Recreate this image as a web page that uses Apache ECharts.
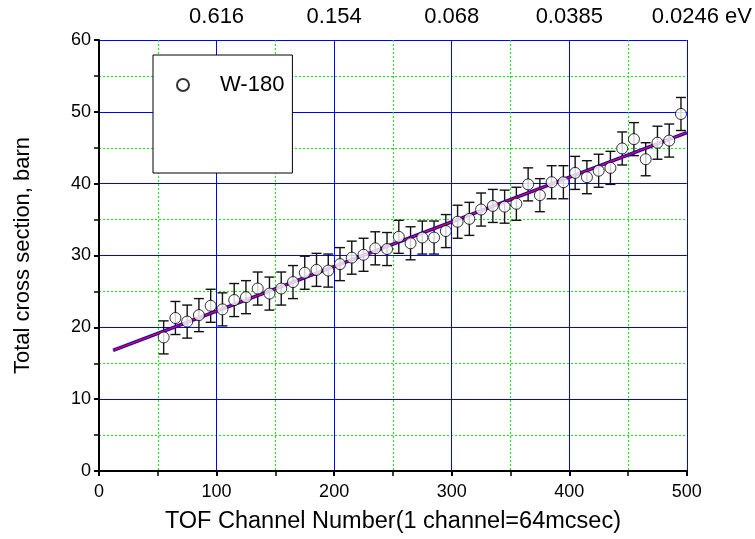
<!DOCTYPE html>
<html>
<head>
<meta charset="utf-8">
<script src="https://cdn.jsdelivr.net/npm/echarts@6/dist/echarts.min.js"></script>
<style>html,body{margin:0;padding:0;background:#fff;}#c{width:755px;height:539px;}</style>
</head>
<body>
<div id="c"></div>
<script>
const channels = [55,65,75,85,95,105,115,125,135,145,155,165,175,185,195,205,215,225,235,245,255,265,275,285,295,305,315,325,335,345,355,365,375,385,395,405,415,425,435,445,455,465,475,485,495];
const crossSection = [18.6,21.3,20.8,21.7,23.0,22.5,23.8,24.2,25.4,24.7,25.4,26.3,27.6,28.0,27.9,28.8,29.7,30.1,31.0,30.9,32.6,31.7,32.5,32.5,33.4,34.7,35.1,36.4,36.9,36.8,37.2,39.9,38.4,40.2,40.2,41.5,40.9,41.8,42.2,44.9,46.2,43.4,45.7,46.0,49.7];
const errors = [2.3,2.3,2.3,2.3,2.3,2.3,2.3,2.3,2.3,2.3,2.3,2.3,2.3,2.3,2.3,2.3,2.3,2.3,2.3,2.3,2.3,2.3,2.3,2.3,2.3,2.3,2.3,2.3,2.3,2.3,2.3,2.3,2.3,2.3,2.3,2.3,2.3,2.3,2.3,2.3,2.3,2.3,2.3,2.3,2.3];
const fitX = [12, 500];
const fitY = [16.8, 47.1];
const topTickValues = [100, 200, 300, 400, 500];
const topTickLabels = ['0.616', '0.154', '0.068', '0.0385', '0.0246'];
const seriesName = 'W-180';

const FONT = 'Liberation Sans, Arial, sans-serif';
const chart = echarts.init(document.getElementById('c'));

const pts = channels.map((x, i) => [x, crossSection[i]]);
const errData = channels.map((x, i) => [x, crossSection[i] - errors[i], crossSection[i] + errors[i]]);
const fitData = fitX.map((x, i) => [x, fitY[i]]);

chart.setOption({
  animation: false,
  backgroundColor: '#fff',
  grid: { left: 99, right: 68, top: 40, bottom: 67 },
  legend: {
    data: [seriesName],
    left: 153, top: 55,
    orient: 'vertical',
    backgroundColor: '#fff',
    borderColor: '#000', borderWidth: 1,
    padding: [19, 8, 77, 23],
    itemWidth: 12, itemHeight: 12,
    textStyle: { fontFamily: FONT, fontSize: 22, color: '#000', padding: [0, 0, 0, 26] }
  },
  xAxis: [{
    type: 'value', min: 0, max: 500, interval: 100,
    name: 'TOF Channel Number(1 channel=64mcsec)',
    nameLocation: 'middle', nameGap: 39,
    nameTextStyle: { fontFamily: FONT, fontSize: 23.5, color: '#000' },
    axisLine: { lineStyle: { color: '#000', width: 2 } },
    axisTick: { length: 5, lineStyle: { color: '#000', width: 2 } },
    minorTick: { show: true, splitNumber: 2, length: 5, lineStyle: { color: '#000', width: 1.5 } },
    axisLabel: { fontFamily: FONT, fontSize: 18, color: '#000', margin: 12 },
    splitLine: { show: true, lineStyle: { color: '#0000ff', width: 1 } },
    minorSplitLine: { show: true, lineStyle: { color: '#00ee00', width: 1, type: [2, 2] } }
  }, {
    type: 'value', min: 0, max: 500, interval: 100, position: 'top',
    axisLine: { show: false }, axisTick: { show: false }, splitLine: { show: false },
    axisLabel: {
      fontFamily: FONT, fontSize: 22, color: '#000', margin: 12,
      formatter: function (v) {
        const i = topTickValues.indexOf(v);
        if (i < 0) return '';
        if (i === topTickLabels.length - 1) return '{p|}' + topTickLabels[i] + ' eV';
        return topTickLabels[i];
      },
      rich: { p: { width: 30 } }
    }
  }],
  yAxis: {
    type: 'value', min: 0, max: 60, interval: 10,
    name: 'Total cross section, barn',
    nameLocation: 'middle', nameGap: 65,
    nameTextStyle: { fontFamily: FONT, fontSize: 22, color: '#000' },
    axisLine: { show: true, lineStyle: { color: '#000', width: 2 } },
    axisTick: { show: true, length: 5, lineStyle: { color: '#000', width: 2 } },
    minorTick: { show: true, splitNumber: 2, length: 5, lineStyle: { color: '#000', width: 1.5 } },
    axisLabel: { fontFamily: FONT, fontSize: 18, color: '#000', margin: 8 },
    splitLine: { show: true, lineStyle: { color: '#0000ff', width: 1 } },
    minorSplitLine: { show: true, lineStyle: { color: '#00ee00', width: 1, type: [2, 2] } }
  },
  series: [
    {
      type: 'custom', name: 'err', silent: true, z: 3,
      data: errData,
      renderItem: function (params, api) {
        const x = api.value(0);
        const lo = api.coord([x, api.value(1)]);
        const hi = api.coord([x, api.value(2)]);
        const hw = 5;
        const st = { stroke: '#111', lineWidth: 1.4 };
        return { type: 'group', children: [
          { type: 'line', shape: { x1: lo[0], y1: lo[1], x2: hi[0], y2: hi[1] }, style: st },
          { type: 'line', shape: { x1: lo[0] - hw, y1: lo[1], x2: lo[0] + hw, y2: lo[1] }, style: st },
          { type: 'line', shape: { x1: hi[0] - hw, y1: hi[1], x2: hi[0] + hw, y2: hi[1] }, style: st }
        ]};
      }
    },
    {
      type: 'line', name: 'fitBlue', data: fitData, symbol: 'none', z: 4, silent: true,
      lineStyle: { color: '#0000ff', width: 3.5 }
    },
    {
      type: 'line', name: 'fitRed', data: fitData, symbol: 'none', z: 5, silent: true,
      lineStyle: { color: '#ff0000', width: 1.3 }
    },
    {
      type: 'scatter', name: seriesName, data: pts, z: 6,
      symbol: 'circle', symbolSize: 11,
      itemStyle: { color: '#fff', borderColor: '#000', borderWidth: 1 }
    }
  ]
});
</script>
</body>
</html>
